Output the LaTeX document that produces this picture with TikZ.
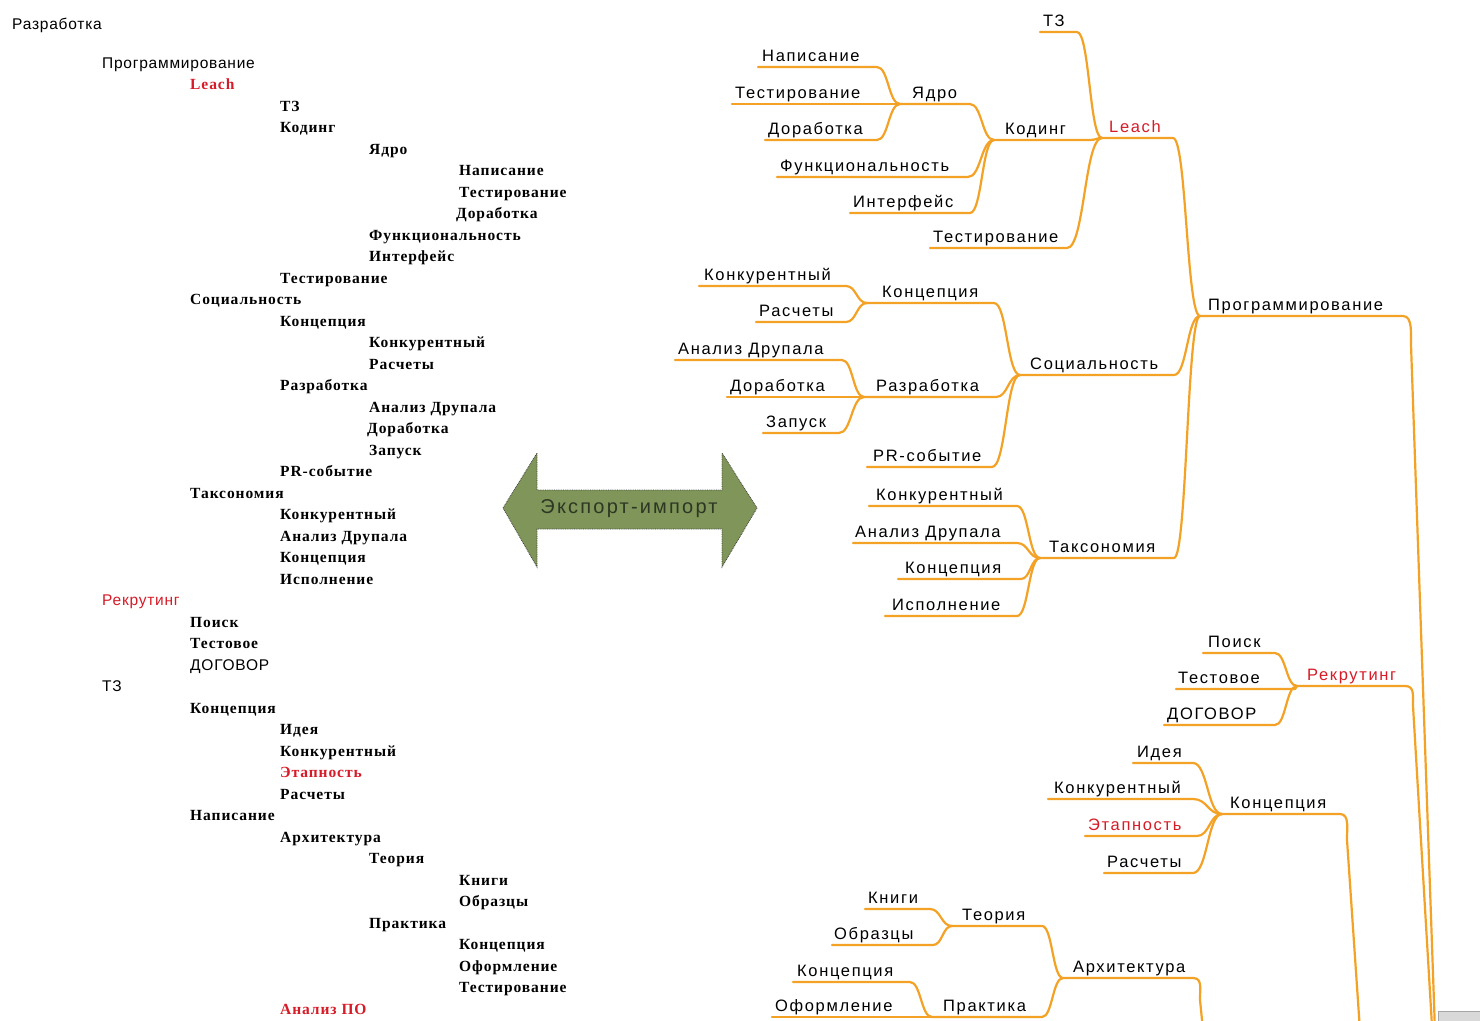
\documentclass[tikz,border=0pt]{standalone}
\usepackage{fontspec}
\setmainfont{Liberation Sans}
\newfontfamily\rsansfont[LetterSpace=10]{Liberation Sans}
\newfontfamily\lsansfont[LetterSpace=5]{Liberation Sans}
\newfontfamily\arrowfont[LetterSpace=11]{Liberation Sans}
\newfontfamily\lseriffont[LetterSpace=6]{Liberation Serif}
\usetikzlibrary{calc}
\definecolor{mmorange}{RGB}{243,162,38}
\definecolor{mmred}{RGB}{214,28,40}
\definecolor{arrgreen}{RGB}{127,149,89}
\definecolor{arrtext}{RGB}{45,55,35}
\tikzset{
  br/.style={draw=mmorange,line width=2.2pt,line cap=round,line join=round},
  rlab/.style={inner sep=0pt,anchor=base west,font=\rsansfont\fontsize{16.5}{19}\selectfont,text=black},
  red/.style={text=mmred},
  ser/.style={inner sep=0pt,anchor=base west,font=\lseriffont\bfseries\fontsize{15.5}{18}\selectfont,text=black},
  serr/.style={ser,text=mmred},
  san/.style={inner sep=0pt,anchor=base west,font=\lsansfont\fontsize{15.5}{18}\selectfont,text=black},
  sanr/.style={san,text=mmred},
}
\newcommand\mmitem[7]{%
  \node[rlab,#7] (#1) at (#3,#4-6) {#2};
  \coordinate (#1L) at (#5,#4);
  \coordinate (#1R) at (#6,#4);}
\newcommand\mmedge[2]{%
  \draw[br] let \p1=(#1R),\p2=(#2L),\n1={0.5*(\x2-\x1)} in
    (#1L) -- (#1R) to[out=0,in=180,distance=\n1] (#2L);}
\begin{document}
\begin{tikzpicture}[x=1pt,y=-1pt]
\useasboundingbox (0,0) rectangle (1480,1020);
\fill[white] (0,0) rectangle (1480,1020);
\begin{scope}
\clip (0,0) rectangle (1480,1020);
% ---------------- left outline ----------------
\node[san] (lh1) at (12,29.5) {Разработка};
\node[san] (lh2) at (102,68.5) {Программирование};
\foreach \mi/\mx/\ms/\mt in {0/190/serr/Leach,1/280/ser/ТЗ,2/280/ser/Кодинг,3/369/ser/Ядро,
  4/459/ser/Написание,5/459/ser/Тестирование,6/456/ser/Доработка,7/369/ser/Функциональность,
  8/369/ser/Интерфейс,9/280/ser/Тестирование,10/190/ser/Социальность,11/280/ser/Концепция,
  12/369/ser/Конкурентный,13/369/ser/Расчеты,14/280/ser/Разработка,15/369/ser/Анализ Друпала,
  16/367/ser/Доработка,17/369/ser/Запуск,18/280/ser/PR-событие,19/190/ser/Таксономия,
  20/280/ser/Конкурентный,21/280/ser/Анализ Друпала,22/280/ser/Концепция,23/280/ser/Исполнение,
  24/102/sanr/Рекрутинг,25/190/ser/Поиск,26/190/ser/Тестовое,27/190/san/ДОГОВОР,28/102/san/ТЗ,
  29/190/ser/Концепция,30/280/ser/Идея,31/280/ser/Конкурентный,32/280/serr/Этапность,
  33/280/ser/Расчеты,34/190/ser/Написание,35/280/ser/Архитектура,36/369/ser/Теория,
  37/459/ser/Книги,38/459/ser/Образцы,39/369/ser/Практика,40/459/ser/Концепция,
  41/459/ser/Оформление,42/459/ser/Тестирование,43/280/serr/Анализ ПО}
  {\node[\ms] (l\mi) at (\mx,{84+21.51*\mi+5.5}) {\mt};}
% ---------------- export/import arrow ----------------
\coordinate (aL) at (503,508);
\coordinate (aR) at (757,508);
\filldraw[fill=arrgreen,draw=black!75,densely dotted,line width=0.8pt]
  (aL) -- (537,453) -- (537,490) -- (722,490) -- (722,453) -- (aR)
  -- (722,567) -- (722,529) -- (537,529) -- (537,567) -- cycle;
\node[inner sep=0pt,text=arrtext,font=\arrowfont\fontsize{20}{23}\selectfont] (exp) at (629,509) {Экспорт-импорт};
% ---------------- mind map ----------------
\mmitem{prog}{Программирование}{1208}{316}{1200}{1403}{}
\mmitem{leach}{Leach}{1109}{138}{1102}{1173}{red}
\mmitem{tz}{ТЗ}{1043}{32}{1040}{1077}{}
\mmitem{kod}{Кодинг}{1005}{140}{994}{1090}{}
\mmitem{tstA}{Тестирование}{933}{248}{930}{1067}{}
\mmitem{yad}{Ядро}{912}{104}{900}{970}{}
\mmitem{fun}{Функциональность}{780}{177}{777}{968}{}
\mmitem{itf}{Интерфейс}{853}{213}{850}{970}{}
\mmitem{napA}{Написание}{762}{67}{758}{877}{}
\mmitem{tstB}{Тестирование}{735}{104}{732}{895}{}
\mmitem{dorA}{Доработка}{768}{140}{765}{877}{}
\mmitem{soc}{Социальность}{1030}{375}{1020}{1174}{}
\mmitem{koncA}{Концепция}{882}{303}{867}{994}{}
\mmitem{konkA}{Конкурентный}{704}{286}{699}{846}{}
\mmitem{rasA}{Расчеты}{759}{322}{756}{846}{}
\mmitem{razA}{Разработка}{876}{397}{864}{996}{}
\mmitem{anA}{Анализ Друпала}{678}{360}{675}{842}{}
\mmitem{dorB}{Доработка}{730}{397}{727}{862}{}
\mmitem{zapA}{Запуск}{766}{433}{763}{839}{}
\mmitem{prA}{PR-событие}{873}{467}{867}{992}{}
\mmitem{tax}{Таксономия}{1049}{558}{1040}{1174}{}
\mmitem{konkT}{Конкурентный}{876}{506}{869}{1017}{}
\mmitem{anT}{Анализ Друпала}{855}{543}{853}{1017}{}
\mmitem{koncT}{Концепция}{905}{579}{898}{1021}{}
\mmitem{ispT}{Исполнение}{892}{616}{885}{1017}{}
\mmitem{rek}{Рекрутинг}{1307}{686}{1297}{1405}{red}
\mmitem{poi}{Поиск}{1208}{653}{1203}{1275}{}
\mmitem{tsv}{Тестовое}{1178}{689}{1176}{1295}{}
\mmitem{dog}{ДОГОВОР}{1167}{725}{1164}{1275}{}
\mmitem{koncL}{Концепция}{1230}{814}{1222}{1340}{}
\mmitem{ide}{Идея}{1137}{763}{1133}{1193}{}
\mmitem{konkL}{Конкурентный}{1054}{799}{1048}{1193}{}
\mmitem{eta}{Этапность}{1088}{836}{1085}{1197}{red}
\mmitem{rasL}{Расчеты}{1107}{873}{1104}{1193}{}
\mmitem{arh}{Архитектура}{1073}{978}{1063}{1193}{}
\mmitem{teo}{Теория}{962}{926}{952}{1042}{}
\mmitem{kni}{Книги}{868}{909}{865}{930}{}
\mmitem{obr}{Образцы}{834}{945}{832}{933}{}
\mmitem{pra}{Практика}{943}{1017}{932}{1042}{}
\mmitem{koncP}{Концепция}{797}{982}{793}{910}{}
\mmitem{ofo}{Оформление}{775}{1017}{772}{932}{}
% connectors
\foreach \mc/\mp in {leach/prog,tz/leach,kod/leach,tstA/leach,yad/kod,fun/kod,itf/kod,
  napA/yad,tstB/yad,dorA/yad,soc/prog,tax/prog,koncA/soc,razA/soc,prA/soc,
  konkA/koncA,rasA/koncA,anA/razA,dorB/razA,zapA/razA,konkT/tax,anT/tax,koncT/tax,ispT/tax,
  poi/rek,tsv/rek,dog/rek,ide/koncL,konkL/koncL,eta/koncL,rasL/koncL,
  teo/arh,pra/arh,kni/teo,obr/teo,koncP/pra,ofo/pra}
  {\mmedge{\mc}{\mp}}
% branches leaving the picture at the bottom
\coordinate (progB) at (1411,345);  \coordinate (progE) at (1436,1060);
\coordinate (rekB) at (1413,706);   \coordinate (rekE) at (1434,1060);
\coordinate (koncLB) at (1347,840); \coordinate (koncLE) at (1362,1060);
\coordinate (arhB) at (1200,1000);  \coordinate (arhE) at (1206,1060);
\foreach \mn in {prog,rek,koncL,arh}
  {\draw[br] (\mn L) -- (\mn R) to[out=0,in=92,distance=10] (\mn B) -- (\mn E);}
% partial box at the bottom right corner
\filldraw[fill=black!15,draw=black!35,line width=0.6pt] (1438,1011) rectangle (1490,1030);
\end{scope}
\end{tikzpicture}
\end{document}
